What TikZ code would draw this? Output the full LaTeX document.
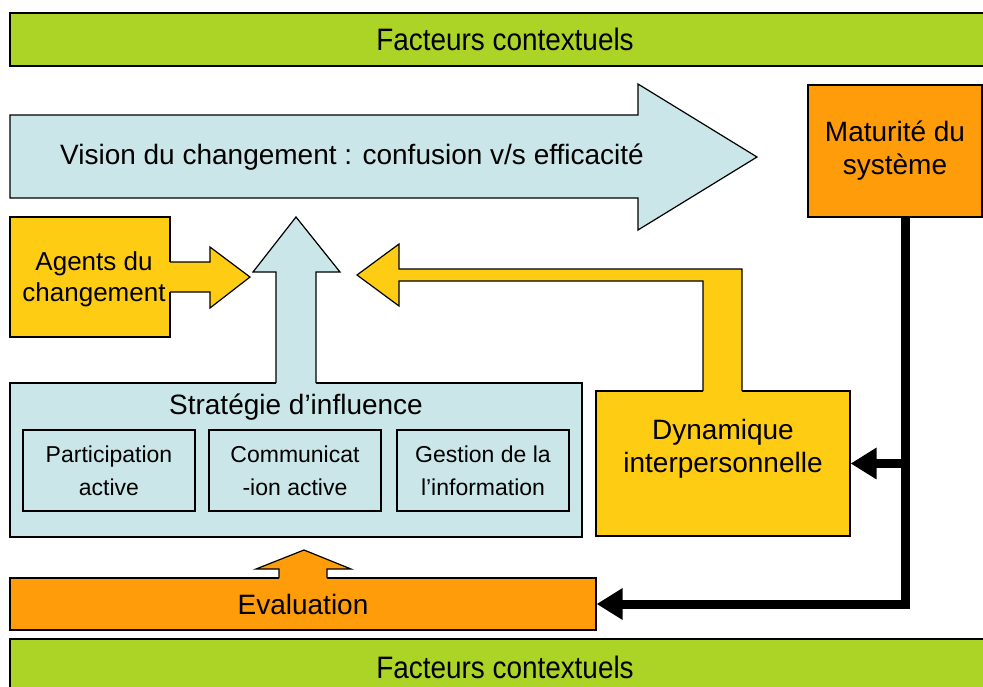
\documentclass[tikz,border=0pt]{standalone}
\usepackage{fontspec}
\setmainfont{Liberation Sans}
\usetikzlibrary{arrows.meta}

\definecolor{ctxgreen}{RGB}{172,212,38}
\definecolor{visblue}{RGB}{202,230,232}
\definecolor{agyellow}{RGB}{255,204,20}
\definecolor{evorange}{RGB}{255,156,10}

\begin{document}
\begin{tikzpicture}[x=1pt, y=-1pt, font=\fontsize{28}{33}\selectfont,
  box/.style={draw=black, line width=1.2pt, inner sep=0pt, align=center},
  barbox/.style={box, fill=ctxgreen, minimum width=990pt, font=\fontsize{31}{36}\selectfont\addfontfeature{FakeStretch=0.9}},
  smallbox/.style={box, font=\fontsize{23}{33}\selectfont, minimum width=172pt, minimum height=81pt},
  blockarrow/.style={line width=1.2pt, line join=miter},
  link/.style={line width=9pt, line join=miter, -{Triangle[length=26pt,width=30pt]}}]
\useasboundingbox (0,0) rectangle (983,686);
\clip (0,0) rectangle (983,686);

% contextual bars
\node[barbox, minimum height=53pt] (topbar) at (505,39.5) {Facteurs contextuels};
\node[barbox, minimum height=56pt] (botbar) at (505,667) {Facteurs contextuels};

% vision arrow
\filldraw[blockarrow, fill=visblue] (10,115) -- (638,115) -- (638,84) -- (757,157) -- (638,230) -- (638,198) -- (10,198) -- cycle;
\node (vision) at (352,157) {Vision du changement : confusion v/s efficacit\'e};

% agents
\node[box, fill=agyellow, minimum width=160pt, minimum height=120pt, font=\fontsize{26}{31}\selectfont] (agents) at (90,277) {};
\node[align=center, font=\fontsize{26}{31}\selectfont] (agentslabel) at (94,279) {Agents du\\changement};
\fill[agyellow] (168,262) -- (210,262) -- (210,247) -- (250,277) -- (210,308) -- (210,292) -- (168,292) -- cycle;
\draw[blockarrow] (170,262) -- (210,262) -- (210,247) -- (250,277) -- (210,308) -- (210,292) -- (170,292);

% strategie
\node[box, fill=visblue, minimum width=572pt, minimum height=154pt] (strat) at (296,460) {};
\node (stratlabel) at (296,407) {Strat\'egie d’influence};
\fill[visblue] (276,385) -- (276,272) -- (253,272) -- (296,217) -- (340,272) -- (316,272) -- (316,385) -- cycle;
\draw[blockarrow] (276,383) -- (276,272) -- (253,272) -- (296,217) -- (340,272) -- (316,272) -- (316,383);
\node[smallbox] (part) at (109,470.5) {Participation\\active};
\node[smallbox] (comm) at (295,470.5) {Communicat\\-ion active};
\node[smallbox] (gest) at (483,470.5) {Gestion de la\\l’information};

% dynamique
\node[box, fill=agyellow, minimum width=254pt, minimum height=145pt] (dyn) at (723,463.5) {};
\node[align=center] (dynlabel) at (723,448.5) {Dynamique\\interpersonnelle};
\fill[agyellow] (703,393) -- (703,281) -- (399,281) -- (399,306) -- (357,275) -- (399,244) -- (399,269) -- (742,269) -- (742,393) -- cycle;
\draw[blockarrow] (703,391) -- (703,281) -- (399,281) -- (399,306) -- (357,275) -- (399,244) -- (399,269) -- (742,269) -- (742,391);

% evaluation
\node[box, fill=evorange, minimum width=586pt, minimum height=52pt] (eval) at (303,604) {Evaluation};
\fill[evorange] (279,580) -- (279,569) -- (256,569) -- (304,550) -- (351,569) -- (327,569) -- (327,580) -- cycle;
\draw[blockarrow] (279,578) -- (279,569) -- (256,569) -- (304,550) -- (351,569) -- (327,569) -- (327,578);

% maturite
\node[box, fill=evorange, minimum width=174pt, minimum height=132pt] (mat) at (895,151) {Maturit\'e du\\syst\`eme};
\coordinate (corner) at (905,603);
\draw[link] (mat.south -| corner) |- (eval.east);
\draw[link] (corner |- dyn.east) -- (dyn.east);
\end{tikzpicture}
\end{document}
